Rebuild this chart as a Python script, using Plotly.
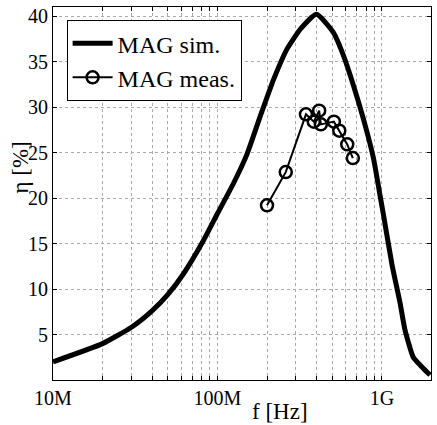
import plotly.graph_objects as go

# Simulated MAG efficiency (frequency in Hz, efficiency in %)
sim_freq = [1.0e7, 2.0e7, 3.0e7, 4.0e7, 5.0e7, 6.2e7, 8.2e7, 1.0e8, 1.25e8,
            1.51e8, 1.82e8, 2.2e8, 2.65e8, 3.2e8, 4.0e8, 5.06e8, 5.82e8, 6.7e8,
            7.71e8, 8.87e8, 9.73e8, 1.02e9, 1.15e9, 1.29e9, 1.38e9, 1.55e9, 1.78e9, 1.96e9]
sim_eff = [2.0, 4.0, 5.8, 7.6, 9.4, 11.65, 15.3, 18.3, 21.6,
           24.8, 29.0, 33.1, 36.4, 38.6, 40.2, 38.2, 35.7, 32.4,
           28.7, 24.4, 20.3, 18.2, 12.7, 8.4, 5.5, 2.5, 1.3, 0.55]

# Measured MAG efficiency
meas_freq = [2.0e8, 2.6e8, 3.45e8, 3.85e8, 4.15e8, 4.25e8, 5.1e8, 5.5e8, 6.15e8, 6.65e8]
meas_eff = [19.2, 22.85, 29.2, 28.4, 29.6, 28.1, 28.4, 27.4, 25.9, 24.4]

x_tickvals = [m * 10 ** e for e in (7, 8) for m in range(1, 10)] + [1e9, 2e9]
x_ticktext = ["10M"] + [""] * 8 + ["100M"] + [""] * 8 + ["1G", ""]
y_tickvals = [5, 10, 15, 20, 25, 30, 35, 40]

FONT = "Liberation Serif, Times New Roman, serif"

fig = go.Figure()
fig.add_trace(go.Scatter(x=sim_freq, y=sim_eff, mode="lines", name="MAG sim.",
                         line=dict(color="black", width=5, shape="spline", smoothing=0.5)))
fig.add_trace(go.Scatter(x=meas_freq, y=meas_eff, mode="lines+markers", name="MAG meas.",
                         line=dict(color="black", width=2),
                         marker=dict(symbol="circle-open", size=12, color="black",
                                     line=dict(width=2.5, color="black"))))

fig.update_layout(
    width=437, height=425,
    margin=dict(l=53, r=6, t=5, b=45),
    paper_bgcolor="white", plot_bgcolor="white",
    font=dict(family=FONT, size=20, color="black"),
    showlegend=True,
    legend=dict(x=0.036, y=0.965, xanchor="left", yanchor="top",
                bordercolor="black", borderwidth=1, bgcolor="white",
                font=dict(family=FONT, size=24), itemwidth=40,
                tracegroupgap=0),
    xaxis=dict(type="log", range=[7, 9.298],
               tickvals=x_tickvals, ticktext=x_ticktext,
               ticks="inside", ticklen=4, tickcolor="black",
               showline=True, linecolor="black", linewidth=1, mirror="allticks",
               showgrid=True, gridcolor="#aaaaaa", griddash="dot", gridwidth=1,
               zeroline=False, tickfont=dict(family=FONT, size=20)),
    yaxis=dict(range=[0, 41], tickvals=y_tickvals,
               ticks="inside", ticklen=4, tickcolor="black",
               showline=True, linecolor="black", linewidth=1, mirror="allticks",
               showgrid=True, gridcolor="#aaaaaa", griddash="dot", gridwidth=1,
               zeroline=False, tickfont=dict(family=FONT, size=20)),
    annotations=[
        dict(text="f [Hz]", xref="paper", yref="paper", x=0.6, y=-0.085,
             xanchor="center", yanchor="middle", showarrow=False,
             font=dict(family=FONT, size=23)),
        dict(text="η [%]", xref="paper", yref="paper", x=-0.087, y=0.57,
             xanchor="center", yanchor="middle", textangle=-90, showarrow=False,
             font=dict(family=FONT, size=23)),
    ],
)

fig.write_html("out.html", config={"displayModeBar": False},
               post_script="document.body.style.margin='0';document.body.style.padding='0';")
